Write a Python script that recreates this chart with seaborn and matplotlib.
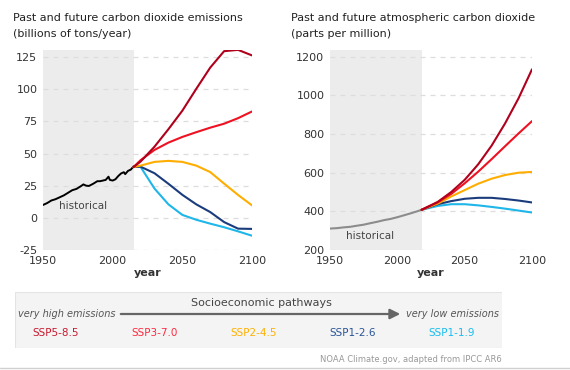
import numpy as np
import pandas as pd
import seaborn as sns
import matplotlib.pyplot as plt
from matplotlib.patches import Rectangle
from matplotlib.lines import Line2D

sns.set_style("white")
plt.rcParams["font.family"] = ["DejaVu Sans"]
plt.rcParams["axes.unicode_minus"] = False

# --- data ---
scenarios = ["SSP5-8.5", "SSP3-7.0", "SSP2-4.5", "SSP1-2.6", "SSP1-1.9"]
colors = ["#b0001c", "#ee1122", "#ffad00", "#1b3c7c", "#1fb6ea"]
label_colors = ["#c81a30", "#ff2a40", "#ffb000", "#2a5596", "#18bdf0"]

# emissions, billions of tons CO2 per year
hist_years = [1950, 1953, 1956, 1959, 1962, 1965, 1968, 1971, 1974, 1977, 1979,
              1981, 1983, 1986, 1989, 1991, 1993, 1995, 1997, 1998, 2000, 2002,
              2004, 2006, 2008, 2009, 2011, 2013, 2015]
hist_emis = [10, 11.5, 13.5, 14.5, 16, 17.5, 19.5, 21.5, 22.5, 24.5, 26,
             25, 24.8, 26.5, 28.5, 28.5, 29, 29.5, 32, 29.5, 29, 30,
             32.5, 34.5, 35.5, 34, 36.5, 37.5, 40]
emis_years = [2015, 2020, 2030, 2040, 2050, 2060, 2070, 2080, 2090, 2100]
emis_ssp585 = [39.5, 43.7, 55.3, 68.9, 83.3, 100.3, 116.8, 129.6, 130.6, 126.3]
emis_ssp370 = [39.5, 44.8, 52.8, 58.5, 62.9, 66.6, 70.1, 73.2, 77.5, 82.7]
emis_ssp245 = [39.5, 40.6, 43.5, 44.3, 43.5, 40.6, 35.6, 26.6, 17.8, 9.7]
emis_ssp126 = [39.5, 39.8, 34.7, 26.5, 17.9, 10.5, 4.5, -3.3, -8.4, -8.6]
emis_ssp119 = [39.5, 39.7, 22.8, 10.5, 2.3, -1.5, -4.5, -7.3, -10.5, -13.9]

# concentration, parts per million
conc_hist_years = [1950, 1955, 1960, 1965, 1970, 1975, 1980, 1985, 1990, 1995,
                   2000, 2005, 2010, 2015, 2018]
conc_hist = [311, 313, 317, 320, 325.7, 331, 338.8, 346, 354.4, 360.8,
             369.7, 379.8, 389.9, 400.8, 408]
conc_years = [2018, 2030, 2040, 2050, 2060, 2070, 2080, 2090, 2100]
conc_ssp585 = [408, 449, 500, 563, 643, 740, 855, 985, 1135]
conc_ssp370 = [408, 446, 490, 545, 605, 670, 737, 803, 867]
conc_ssp245 = [408, 440, 477, 510, 543, 569, 588, 600, 604]
conc_ssp126 = [408, 437, 453, 465, 470, 470, 464, 456, 446]
conc_ssp119 = [408, 428, 437, 437, 431, 423, 414, 404, 394]

emis = pd.DataFrame({
    "year": emis_years * 5,
    "value": emis_ssp585 + emis_ssp370 + emis_ssp245 + emis_ssp126 + emis_ssp119,
    "scenario": np.repeat(scenarios, len(emis_years)),
})
conc = pd.DataFrame({
    "year": conc_years * 5,
    "value": conc_ssp585 + conc_ssp370 + conc_ssp245 + conc_ssp126 + conc_ssp119,
    "scenario": np.repeat(scenarios, len(conc_years)),
})
palette = dict(zip(scenarios, colors))

W, H = 570, 370
fig = plt.figure(figsize=(W / 100, H / 100), dpi=100)


def px_axes(x0, y0, x1, y1):
    return fig.add_axes([x0 / W, 1 - y1 / H, (x1 - x0) / W, (y1 - y0) / H])


def style(ax, yticks, ylim, hist_end):
    ax.axvspan(1950, hist_end, color="#ececec", zorder=0, lw=0)
    ax.set_xlim(1950, 2100)
    ax.set_ylim(*ylim)
    ax.set_xticks([1950, 2000, 2050, 2100])
    ax.set_yticks(yticks)
    ax.yaxis.grid(True, ls=(0, (4, 4)), color="#dddddd", lw=0.9)
    ax.set_axisbelow(True)
    for s in ax.spines.values():
        s.set_visible(False)
    ax.tick_params(length=0, labelsize=8, labelcolor="#333333", pad=4)


ax1 = px_axes(43, 50, 252, 250)
ax2 = px_axes(330, 50, 532, 250)

style(ax1, [-25, 0, 25, 50, 75, 100, 125], (-25, 130.5), 2015)
sns.lineplot(x=hist_years, y=hist_emis, color="black", lw=1.4, ax=ax1)
sns.lineplot(data=emis, x="year", y="value", hue="scenario", hue_order=scenarios[::-1],
             palette=palette, lw=1.5, legend=False, ax=ax1)
ax1.text(1979, 9.5, "historical", ha="center", va="center", fontsize=7.5, color="#444444")

style(ax2, [200, 400, 600, 800, 1000, 1200], (200, 1235), 2018)
sns.lineplot(x=conc_hist_years, y=conc_hist, color="#8c8c8c", lw=1.5, ax=ax2)
sns.lineplot(data=conc, x="year", y="value", hue="scenario", hue_order=scenarios[::-1],
             palette=palette, lw=1.5, legend=False, ax=ax2)
ax2.text(1980, 272, "historical", ha="center", va="center", fontsize=7.5, color="#444444")
for ax in (ax1, ax2):
    ax.set_xlabel("year", fontsize=8, fontweight="bold", color="#333333", labelpad=2)
    ax.set_ylabel("")

fig.text(13 / W, 1 - 18 / H, "Past and future carbon dioxide emissions",
         fontsize=8, color="#222222", va="center")
fig.text(13 / W, 1 - 34 / H, "(billions of tons/year)",
         fontsize=8, color="#222222", va="center")
fig.text(291 / W, 1 - 18 / H, "Past and future atmospheric carbon dioxide",
         fontsize=8, color="#222222", va="center")
fig.text(291 / W, 1 - 34 / H, "(parts per million)",
         fontsize=8, color="#222222", va="center")

# scenario key box
lax = px_axes(15, 292, 502, 348)
lax.set_xlim(0, 487)
lax.set_ylim(56, 0)
lax.axis("off")
lax.add_patch(Rectangle((0, 0), 487, 56, facecolor="#f4f4f4", edgecolor="#e4e4e4", lw=0.8))
lax.text(246, 11, "Socioeconomic pathways", ha="center", va="center", fontsize=8, color="#444444")
lax.text(3, 22, "very high emissions", ha="left", va="center", fontsize=7,
         style="italic", color="#555555")
lax.text(484, 22, "very low emissions", ha="right", va="center", fontsize=7,
         style="italic", color="#555555")
lax.annotate("", xy=(388, 22), xytext=(103, 22),
             arrowprops=dict(arrowstyle="-|>,head_length=0.6,head_width=0.3",
                             color="#666666", lw=1.6))
for i, (name, c) in enumerate(zip(scenarios, label_colors)):
    lax.text(41 + 99 * i, 41, name, ha="center", va="center", fontsize=7.5, color=c)

fig.text(502 / W, 1 - 360 / H, "NOAA Climate.gov, adapted from IPCC AR6",
         ha="right", va="center", fontsize=6, color="#999999")
fig.add_artist(Line2D([0, 1], [1 - 367.5 / H] * 2, color="#d0d0d0", lw=1))

fig.savefig("out.png", dpi=100)
